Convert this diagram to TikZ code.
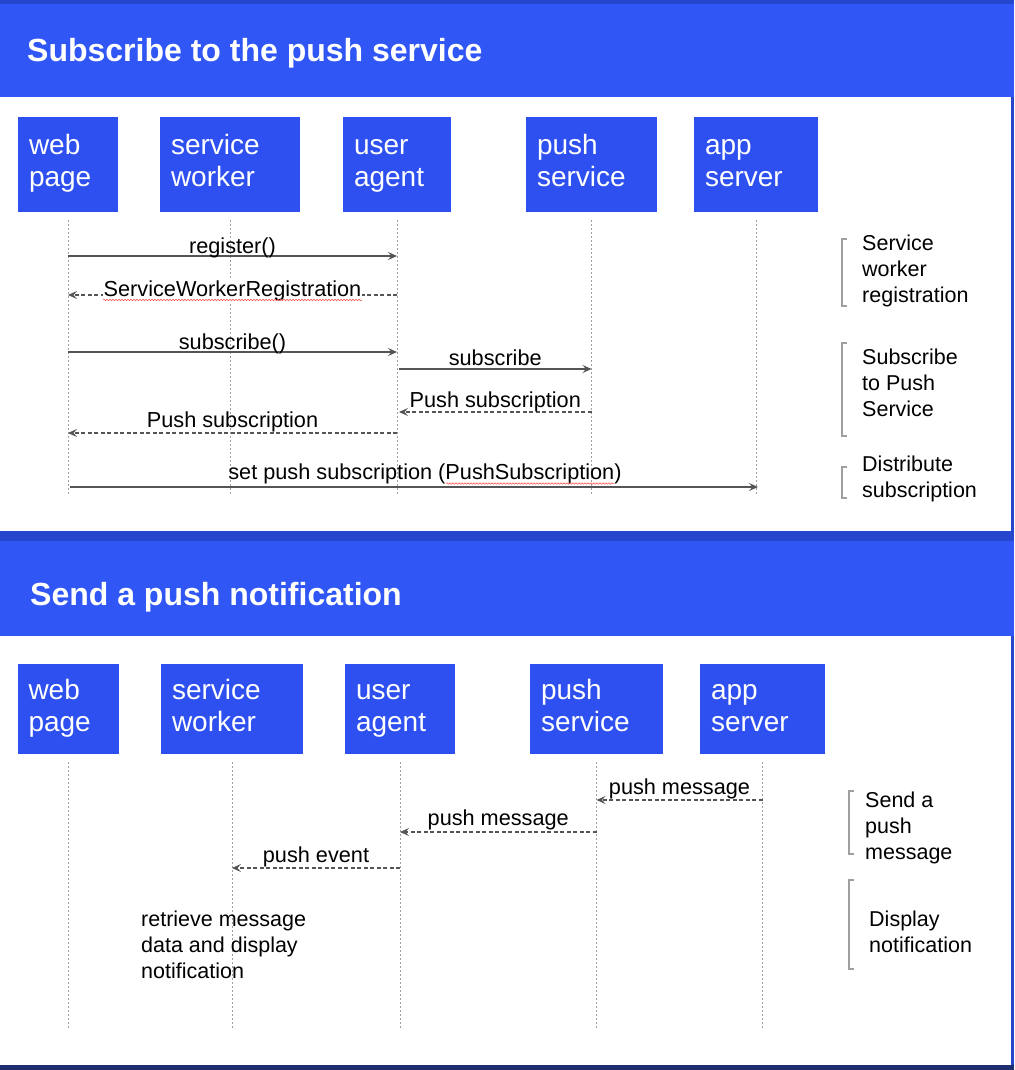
\documentclass[tikz,border=0pt]{standalone}
\usepackage{fontspec}
\setmainfont{Liberation Sans}
\usetikzlibrary{arrows.meta,decorations.pathmorphing}
\definecolor{hdrblue}{RGB}{48,87,245}
\definecolor{boxblue}{RGB}{46,80,240}
\definecolor{frameblue}{RGB}{38,70,205}
\definecolor{navy}{RGB}{30,45,110}
\definecolor{lineclr}{RGB}{85,85,85}
\newcommand{\twoline}[2]{#1\strut\\#2\strut}
\begin{document}
\begin{tikzpicture}[x=1pt, y=-1pt,
  actor/.style={rectangle, fill=boxblue, text=white, align=left, inner xsep=11pt, inner ysep=0pt, font=\fontsize{28}{32}\selectfont},
  title/.style={text=white, inner sep=0pt, font=\fontsize{32}{38}\selectfont\bfseries},
  lifeline/.style={draw=gray!75, line width=1pt, dash pattern=on 1.5pt off 2.5pt},
  call/.style={draw=lineclr, line width=1.1pt, -{Stealth[length=9pt, width=8pt, inset=3.5pt]}},
  reply/.style={call, dash pattern=on 4pt off 2.5pt},
  msg/.style={anchor=base, inner sep=1pt, text=black, font=\fontsize{21.7}{25}\selectfont},
  note/.style={align=left, inner sep=0pt, font=\fontsize{21.5}{26}\selectfont},
  brk/.style={draw=gray!75, line width=1.2pt},
  squiggle/.style={draw=red!70, line width=0.5pt, decorate, decoration={snake, amplitude=0.8pt, segment length=3pt}}]
\useasboundingbox (0,0) rectangle (1014,1070);
% background and headers
\fill[frameblue] (0,0) rectangle (1014,1070);
\fill[hdrblue] (0,4) rectangle (1014,97);
\fill[white] (0,97) rectangle (1011,531);
\fill[hdrblue] (0,541) rectangle (1014,636);
\fill[white] (0,636) rectangle (1011,1065);
\fill[navy] (0,1065) rectangle (1014,1070);
\node[title, anchor=base west] (t1) at (27,62) {Subscribe to the push service};
\node[title, anchor=base west] (t2) at (30,605) {Send a push notification};
% subscribe: actors
\node[actor, minimum height=95pt, text width=78pt] (wp1) at (68,164.5) {\twoline{web}{page}};
\node[actor, minimum height=95pt, text width=118pt] (sw1) at (230,164.5) {\twoline{service}{worker}};
\node[actor, minimum height=95pt, text width=86pt] (ua1) at (397,164.5) {\twoline{user}{agent}};
\node[actor, minimum height=95pt, text width=109pt] (ps1) at (591.5,164.5) {\twoline{push}{service}};
\node[actor, minimum height=95pt, text width=102pt] (as1) at (756,164.5) {\twoline{app}{server}};
\foreach \a in {wp1,sw1,ua1,ps1,as1}
  \draw[lifeline] ([yshift=-8pt]\a.south) -- (\a |- 0,496);
% subscribe: messages
\draw[call] (wp1 |- 0,256) -- node[msg, yshift=3pt] (reg) {register()} (ua1 |- 0,256);
\draw[reply] (ua1 |- 0,295) -- node[msg, fill=white, yshift=-1pt] (swr) {ServiceWorkerRegistration} (wp1 |- 0,295);
\draw[squiggle] ([xshift=1pt, yshift=-4pt]swr.base west) -- ([xshift=-1pt, yshift=-4pt]swr.base east);
\draw[call] (wp1 |- 0,352) -- node[msg, yshift=3pt] (sub1) {subscribe()} (ua1 |- 0,352);
\draw[call] ([xshift=2pt]ua1 |- 0,369) -- node[msg, yshift=4pt] (sub2) {subscribe} (ps1 |- 0,369);
\draw[reply] (ps1 |- 0,412) -- node[msg, yshift=5pt] (psub1) {Push subscription} ([xshift=2pt]ua1 |- 0,412);
\draw[reply] (ua1 |- 0,433) -- node[msg, yshift=6pt] (psub2) {Push subscription} (wp1 |- 0,433);
\draw[call] ([xshift=2pt]wp1 |- 0,487) -- node[msg, yshift=8pt, xshift=11pt] (setps) {set push subscription (PushSubscription)} ([xshift=2pt]as1 |- 0,487);
\draw[squiggle] (446,483.5) -- (614,483.5);
% subscribe: phases
\draw[brk] (847,239) -| (842,306) -- (847,306);
\node[note, anchor=west] (n1) at (862,271) {Service\strut\\worker\strut\\registration\strut};
\draw[brk] (847,343) -| (842,436) -- (847,436);
\node[note, anchor=west] (n2) at (862,385) {Subscribe\strut\\to Push\strut\\Service\strut};
\draw[brk] (847,467) -| (842,498) -- (847,498);
\node[note, anchor=west] (n3) at (862,479) {Distribute\strut\\subscription\strut};
% notification: actors
\node[actor, minimum height=90pt, text width=79pt] (wp2) at (68,709) {\twoline{web}{page}};
\node[actor, minimum height=90pt, text width=120pt] (sw2) at (232,709) {\twoline{service}{worker}};
\node[actor, minimum height=90pt, text width=88pt] (ua2) at (400,709) {\twoline{user}{agent}};
\node[actor, minimum height=90pt, text width=111pt] (ps2) at (596.5,709) {\twoline{push}{service}};
\node[actor, minimum height=90pt, text width=103pt] (as2) at (762.5,709) {\twoline{app}{server}};
\foreach \a in {wp2,sw2,ua2,ps2,as2}
  \draw[lifeline] ([yshift=-8pt]\a.south) -- (\a |- 0,1028);
% notification: messages
\draw[reply] (as2 |- 0,800) -- node[msg, yshift=6pt] (pm1) {push message} (ps2 |- 0,800);
\draw[reply] (ps2 |- 0,832) -- node[msg, yshift=7pt] (pm2) {push message} (ua2 |- 0,832);
\draw[reply] (ua2 |- 0,868) -- node[msg, yshift=6pt] (pev) {push event} (sw2 |- 0,868);
\node[note, anchor=west] (rt) at (141,947) {retrieve message\strut\\data and display\strut\\notification\strut};
% notification: phases
\draw[brk] (854,791) -| (849,854) -- (854,854);
\node[note, anchor=west] (n4) at (865,828) {Send a\strut\\push\strut\\message\strut};
\draw[brk] (854,880) -| (849,969) -- (854,969);
\node[note, anchor=west] (n5) at (869,934.5) {Display\strut\\notification\strut};
\end{tikzpicture}
\end{document}
